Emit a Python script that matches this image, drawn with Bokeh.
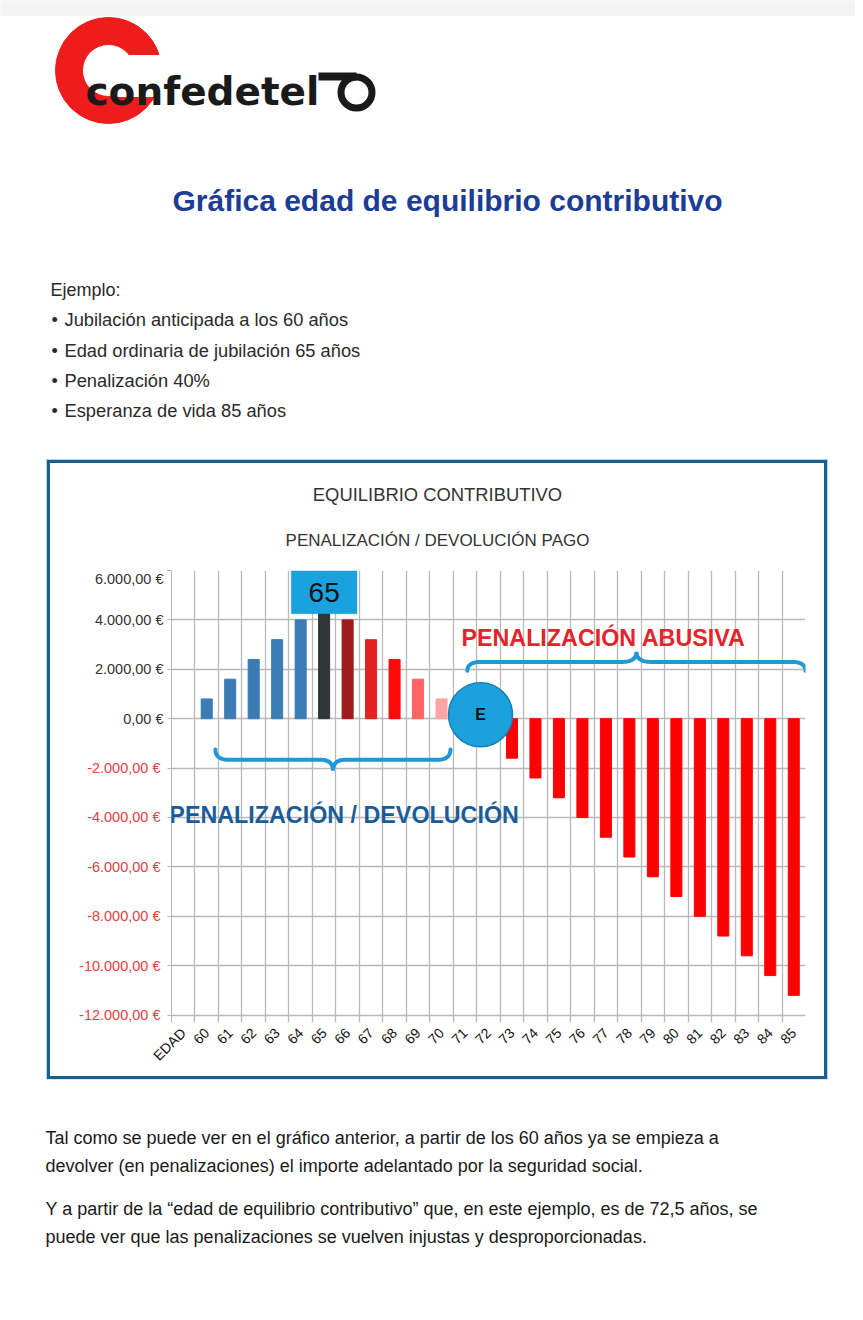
from math import pi
import numpy as np
from bokeh.plotting import figure
from bokeh.models import (Range1d, FixedTicker, ColumnDataSource, Label, LinearAxis,
                          BoxAnnotation, Spacer)
from bokeh.layouts import column, row
from bokeh.embed import file_html
from bokeh.resources import INLINE
from bokeh.core.properties import value

# ---------------- data ----------------
ages = list(range(60, 86))
categories = ["EDAD"] + [str(a) for a in ages]
values = [800, 1600, 2400, 3200, 4000, 4800, 4000, 3200, 2400, 1600, 800, 0,
          -800, -1600, -2400, -3200, -4000, -4800, -5600, -6400, -7200, -8000,
          -8800, -9600, -10400, -11200]
bar_colors = (["#3b7cb4"] * 5 +
              ["#2f3537", "#9e1b1b", "#e32222", "#ff0a0a", "#ff6464", "#ffa4a4", "#ff0000"] +
              ["#ff0000"] * 14)
y_ticks = list(range(-12000, 6001, 2000))
bullets = ["Jubilación anticipada a los 60 años",
           "Edad ordinaria de jubilación 65 años",
           "Penalización 40%",
           "Esperanza de vida 85 años"]
paragraph = ["Tal como se puede ver en el gráfico anterior, a partir de los 60 años ya se empieza a",
             "devolver (en penalizaciones) el importe adelantado por la seguridad social.",
             "Y a partir de la \u201cedad de equilibrio contributivo\u201d que, en este ejemplo, es de 72,5 años, se",
             "puede ver que las penalizaciones se vuelven injustas y desproporcionadas."]

SANS = value("Liberation Sans")


def eur(v):
    s = f"{abs(v):,}".replace(",", ".")
    return ("-" if v < 0 else "") + s + ",00 \u20ac"


def bare(p):
    p.axis.visible = False
    p.grid.visible = False
    p.outline_line_color = None
    p.min_border = 0
    return p


# ---------------- top section (logo, title, bullets) ----------------
pA = bare(figure(width=855, height=459, x_range=Range1d(0, 855), y_range=Range1d(459, 0),
                 output_backend="svg", toolbar_location=None))
pA.quad(left=0, right=855, top=0, bottom=15, color="#f4f4f4")
# logo
pA.annulus(x=108, y=70, inner_radius=26, outer_radius=53, color="#ee1c1c")
pA.quad(left=112, right=167, top=55, bottom=96, color="white")
pA.text(x=[85], y=[91], text=["confedetel"], text_font=value("DejaVu Sans"),
        text_font_style="bold", text_font_size="39px", text_color="#1a1a1a",
        text_baseline="alphabetic")
pA.line(x=[318, 356], y=[76, 76], line_width=8, color="#1a1a1a")
pA.circle(x=[356], y=[92], radius=15.5, fill_color=None, line_color="#1a1a1a", line_width=7)
# title
pA.text(x=[447], y=[200], text=["Gráfica edad de equilibrio contributivo"],
        text_font=SANS, text_font_style="bold", text_font_size="30px",
        text_color="#1c3d94", text_align="center", text_baseline="middle")
# bullets
pA.text(x=[50], y=[289], text=["Ejemplo:"], text_font=SANS, text_font_size="18px",
        text_color="#2a2a2a", text_baseline="middle")
by = [319, 350, 380, 410]
pA.text(x=[51] * 4, y=by, text=["\u2022"] * 4, text_font=SANS, text_font_size="18px",
        text_color="#2a2a2a", text_baseline="middle")
pA.text(x=[64] * 4, y=by, text=bullets, text_font=SANS, text_font_size="18.3px",
        text_color="#2a2a2a", text_baseline="middle")

# ---------------- chart titles (frame aligned with the chart frame below) ----------------
pT = bare(figure(width=774, height=107, x_range=Range1d(171, 805), y_range=Range1d(570, 463),
                 output_backend="svg", toolbar_location=None))
pT.text(x=[437], y=[494], text=["EQUILIBRIO CONTRIBUTIVO"], text_font=SANS,
        text_font_size="18.4px", text_color="#333333", text_align="center",
        text_baseline="middle")
pT.text(x=[437], y=[540], text=["PENALIZACIÓN / DEVOLUCIÓN PAGO"], text_font=SANS,
        text_font_size="17px", text_color="#333333", text_align="center",
        text_baseline="middle")

# ---------------- chart ----------------
n = len(categories)
xs = [categories.index(str(a)) for a in ages]
src = ColumnDataSource(dict(x=xs, top=values, color=bar_colors))

pB = figure(width=774, height=506, x_range=Range1d(-0.5, n - 0.5),
            y_range=Range1d(-12300, 6000), output_backend="svg", toolbar_location=None,
            min_border_left=121, min_border_right=19, min_border_top=0,
            min_border_bottom=54)
pB.outline_line_color = None

pB.xaxis.ticker = FixedTicker(ticks=list(range(n)))
pB.xaxis.major_label_overrides = {i: c for i, c in enumerate(categories)}
pB.xaxis.major_label_orientation = pi / 4
pB.xaxis.axis_line_color = None
pB.xaxis.major_tick_line_color = None
pB.xaxis.minor_tick_line_color = None
pB.xaxis.major_label_standoff = 2
pB.xaxis.major_label_text_font = "Liberation Sans"
pB.xaxis.major_label_text_font_size = "14px"
pB.xaxis.major_label_text_color = "#111111"

LABEL_PX = 14.5


def style_y(ax, color):
    ax.minor_tick_line_color = None
    ax.major_label_text_font = "Liberation Sans"
    ax.major_label_text_font_size = f"{LABEL_PX}px"
    ax.major_label_text_color = color


# inner axis: ticks for every value, labels for the non-negative ones
pB.yaxis.ticker = FixedTicker(ticks=y_ticks)
pB.yaxis.major_label_overrides = {t: (eur(t) if t >= 0 else "") for t in y_ticks}
style_y(pB.yaxis[0], "#333333")
pB.yaxis.axis_line_color = "#b5b5b5"
pB.yaxis.major_tick_line_color = "#b5b5b5"
pB.yaxis.major_tick_out = 4
pB.yaxis.major_tick_in = 0
pB.yaxis.major_label_standoff = 4

# outer axis: red labels for the negative values, pulled back to the same column
# (Liberation Sans has Arial metrics: "6.000,00 €" = 4.726 em)
inner_size = 4 + 4 + 4.726 * LABEL_PX
neg = [t for t in y_ticks if t < 0]
ax_neg = LinearAxis(ticker=FixedTicker(ticks=neg),
                    major_label_overrides={t: eur(t) for t in neg})
style_y(ax_neg, "#e8403e")
ax_neg.axis_line_color = None
ax_neg.major_tick_line_color = None
ax_neg.major_tick_out = 0
ax_neg.major_tick_in = 0
ax_neg.major_label_standoff = int(round(8 - inner_size))
pB.add_layout(ax_neg, "left")

pB.xgrid.ticker = FixedTicker(ticks=[i - 0.5 for i in range(n + 1)])
pB.ygrid.ticker = FixedTicker(ticks=y_ticks)
pB.grid.grid_line_color = "#b9b9b9"
pB.grid.grid_line_width = 1.3

pB.vbar(x="x", top="top", bottom=0, width=0.47, color="color", source=src)


def brace(x0, x1, yb, end_dy, tip_dy, r):
    t = np.linspace(0, 1, 14)[:, None]

    def qb(a, b, c):
        a, b, c = map(np.array, (a, b, c))
        return (1 - t) ** 2 * a + 2 * (1 - t) * t * b + t ** 2 * c
    xm = (x0 + x1) / 2
    pts = np.vstack([
        qb((x0, yb + end_dy), (x0, yb), (x0 + r, yb)),
        qb((xm - r, yb), (xm, yb), (xm, yb + tip_dy)),
        qb((xm, yb + tip_dy), (xm, yb), (xm + r, yb)),
        qb((x1 - r, yb), (x1, yb), (x1, yb + end_dy)),
    ])
    return pts[:, 0], pts[:, 1]


bx, byy = brace(1.37, 11.38, -1660, 410, -440, 0.55)
pB.line(bx, byy, line_width=4, color="#1f98d5", line_cap="round")
bx, byy = brace(12.1, 26.5, 2300, -360, 410, 0.6)
pB.line(bx, byy, line_width=4, color="#1f98d5", line_cap="round")

# equilibrium marker
pB.scatter(x=[12.66], y=[160], size=64, fill_color="#1ba1dc", line_color="#1a80b8",
           line_width=1.5)
pB.add_layout(Label(x=12.66, y=160, text="E", text_align="center", text_baseline="middle",
                    text_font="Liberation Sans", text_font_style="bold", text_font_size="16px",
                    text_color="#111111"))

# 65 box
c65 = categories.index("65")
pB.add_layout(BoxAnnotation(left=c65 - 1.4, right=c65 + 1.4, top=5990, bottom=4250,
                            fill_color="#1aa2de", fill_alpha=1.0, line_color="#1691c9",
                            line_width=1))
pB.add_layout(Label(x=c65, y=5100, text="65", text_align="center", text_baseline="middle",
                    text_font="Liberation Sans", text_font_size="28px", text_color="#111111"))

pB.add_layout(Label(x=17.9, y=3277, text="PENALIZACIÓN ABUSIVA", text_align="center",
                    text_baseline="middle", text_font="Liberation Sans", text_font_style="bold",
                    text_font_size="23.3px", text_color="#e5242a"))
pB.add_layout(Label(x=6.85, y=-3883, text="PENALIZACIÓN / DEVOLUCIÓN", text_align="center",
                    text_baseline="middle", text_font="Liberation Sans", text_font_style="bold",
                    text_font_size="23.3px", text_color="#1b5c98"))

box = column(pT, pB, styles={"box-shadow": "0 0 0 3px #1b5f8e, 0 0 0 4px #a9d6ee"})

# ---------------- bottom paragraph ----------------
pC = bare(figure(width=855, height=230, x_range=Range1d(0, 855), y_range=Range1d(1309, 1079),
                 output_backend="svg", toolbar_location=None))
pC.text(x=[45] * 4, y=[1137, 1165, 1208, 1236], text=paragraph, text_font=SANS,
        text_font_size="18px", text_color="#1a1a1a", text_baseline="middle")

layout = column(pA,
                row(Spacer(width=50, height=10), column(Spacer(width=10, height=4), box)),
                Spacer(width=10, height=3),
                pC)
open("out.html", "w").write(file_html(layout, INLINE))
